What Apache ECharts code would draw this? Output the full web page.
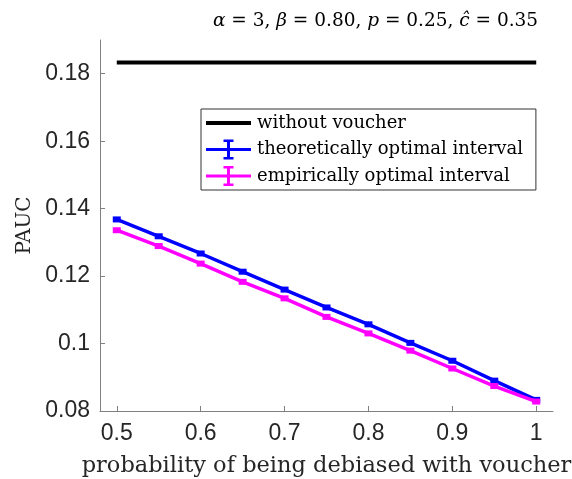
<!DOCTYPE html>
<html>
<head>
<meta charset="utf-8">
<script src="https://cdn.jsdelivr.net/npm/echarts@6/dist/echarts.min.js"></script>
<style>
html,body{margin:0;padding:0;background:#fff;}
#chart{width:572px;height:479px;}
</style>
</head>
<body>
<div id="chart"></div>
<script>
// ---- data ----
var probabilities = [0.5, 0.55, 0.6, 0.65, 0.7, 0.75, 0.8, 0.85, 0.9, 0.95, 1.0];
var withoutVoucher = [0.1833, 0.1833, 0.1833, 0.1833, 0.1833, 0.1833, 0.1833, 0.1833, 0.1833, 0.1833, 0.1833];
var theoreticalInterval = [0.1368, 0.1318, 0.1267, 0.1213, 0.1160, 0.1107, 0.1057, 0.1002, 0.0949, 0.0890, 0.0833];
var empiricalInterval = [0.1336, 0.1289, 0.1237, 0.1183, 0.1134, 0.1079, 0.1030, 0.0979, 0.0926, 0.0874, 0.0828];
var xTicks = [0.5, 0.6, 0.7, 0.8, 0.9, 1.0];
var yTicks = [0.08, 0.10, 0.12, 0.14, 0.16, 0.18];
var seriesNames = ['without voucher', 'theoretically optimal interval', 'empirically optimal interval'];

function pairs(xs, ys) { return xs.map(function (x, i) { return [x, ys[i]]; }); }

var serif = '"DejaVu Serif", "Liberation Serif", serif';
var sans = '"Liberation Sans", Arial, sans-serif';

var errIcon = 'path://M0,8.5H45V11.5H0Z M21,0H24V20H21Z M17.5,0H27.5V2.5H17.5Z M17.5,17.5H27.5V20H17.5Z';
var lineIcon = 'path://M0,0h0.01v0.01h-0.01Z M0,8H45V12H0Z M44.99,19.99h0.01v0.01h-0.01Z';

var chart = echarts.init(document.getElementById('chart'), null, {renderer: 'canvas'});
chart.setOption({
  animation: false,
  backgroundColor: '#ffffff',
  title: {
    text: '{i|α} = 3, {i|β} = 0.80, {i|p} = 0.25, {i|ĉ} = 0.35',
    left: 208, top: 7,
    textStyle: {
      fontFamily: serif, fontSize: 18.5, fontWeight: 'normal', color: '#000',
      rich: { i: { fontFamily: serif, fontStyle: 'italic', fontSize: 18.5, color: '#000' } }
    }
  },
  legend: {
    orient: 'vertical',
    left: 201, top: 109,
    itemWidth: 45, itemHeight: 20, itemGap: 6.5,
    padding: [4, 13, 4, 5],
    borderColor: '#333', borderWidth: 1,
    backgroundColor: '#fff',
    textStyle: { fontFamily: serif, fontSize: 18, color: '#000', padding: [0, 0, 0, 1] },
    data: [
      { name: seriesNames[0], icon: lineIcon, itemStyle: { color: '#000' } },
      { name: seriesNames[1], icon: errIcon, itemStyle: { color: '#0000ff' } },
      { name: seriesNames[2], icon: errIcon, itemStyle: { color: '#ff00ff' } }
    ]
  },
  grid: { left: 100, right: 19, top: 40, bottom: 68, containLabel: false, outerBoundsMode: 'none' },
  xAxis: {
    type: 'value', min: 0.48, max: 1.02,
    name: 'probability of being debiased with voucher',
    nameLocation: 'middle', nameGap: 44,
    nameTextStyle: { fontFamily: serif, fontSize: 22.5, color: '#262626' },
    axisLine: { show: true, lineStyle: { color: '#808080', width: 1 } },
    axisTick: { show: true, inside: true, length: 5, customValues: xTicks, lineStyle: { color: '#808080' } },
    axisLabel: { customValues: xTicks, margin: 11, fontFamily: sans, fontSize: 23, color: '#262626' },
    splitLine: { show: false }
  },
  yAxis: {
    type: 'value', min: 0.08, max: 0.19,
    name: 'PAUC',
    nameLocation: 'middle', nameGap: 64, nameRotate: 90,
    nameTextStyle: { fontFamily: serif, fontSize: 20, color: '#262626' },
    axisLine: { show: true, lineStyle: { color: '#808080', width: 1 } },
    axisTick: { show: true, inside: true, length: 5, customValues: yTicks, lineStyle: { color: '#808080' } },
    axisLabel: { customValues: yTicks, margin: 10, fontFamily: sans, fontSize: 23, color: '#262626' },
    splitLine: { show: false }
  },
  series: [
    {
      name: seriesNames[0], type: 'line', data: pairs(probabilities, withoutVoucher),
      showSymbol: false, symbol: 'none',
      lineStyle: { color: '#000', width: 4 }, itemStyle: { color: '#000' }, z: 3
    },
    {
      name: seriesNames[1], type: 'line', data: pairs(probabilities, theoreticalInterval),
      symbol: 'rect', symbolSize: [8, 6],
      lineStyle: { color: '#0000ff', width: 3.5 }, itemStyle: { color: '#0000ff' }, z: 3
    },
    {
      name: seriesNames[2], type: 'line', data: pairs(probabilities, empiricalInterval),
      symbol: 'rect', symbolSize: [8, 6],
      lineStyle: { color: '#ff00ff', width: 3.5 }, itemStyle: { color: '#ff00ff' }, z: 4
    }
  ]
});
</script>
</body>
</html>
